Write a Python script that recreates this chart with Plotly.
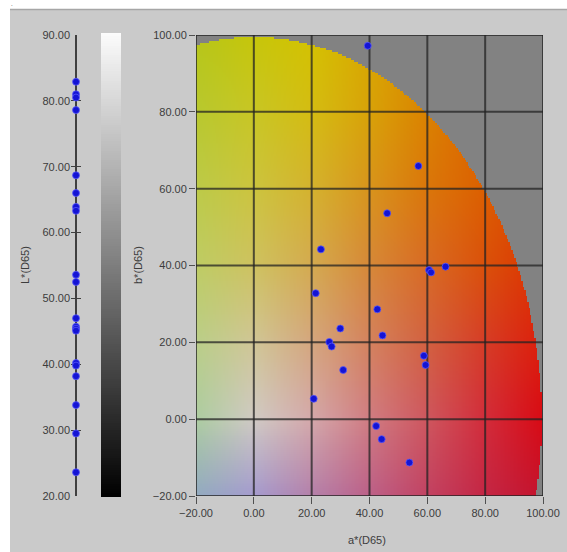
import numpy as np
import plotly.graph_objects as go

# ---------------- data ----------------
a_values = [39.4, 56.9, 46.1, 23.2, 60.6, 61.3, 66.3, 21.4, 42.7, 29.9,
            44.5, 26.1, 26.9, 58.8, 59.4, 30.9, 20.7, 42.3, 44.2, 53.8]
b_values = [97.2, 65.9, 53.6, 44.2, 38.8, 38.2, 39.7, 32.8, 28.6, 23.6,
            21.8, 20.1, 18.9, 16.5, 14.1, 12.8, 5.3, -1.8, -5.2, -11.3]
L_values = [82.9, 81.0, 80.5, 78.6, 68.7, 66.0, 63.9, 63.3, 53.6, 52.5,
            47.0, 45.7, 45.4, 45.1, 40.2, 39.8, 38.2, 33.8, 29.5, 23.6]
ab_ticks = [-20, 0, 20, 40, 60, 80, 100]
L_ticks = [20, 30, 40, 50, 60, 70, 80, 90]

# ---------------- style: background palette ----------------
pal_nodes = np.array(ab_ticks, dtype=float)
pal_rows = np.array([
    [(146, 170, 192), (164, 154, 206), (180, 128, 170), (188, 96, 136), (194, 66, 98), (196, 38, 68), (196, 18, 44)],
    [(172, 204, 160), (208, 202, 196), (212, 168, 170), (208, 124, 130), (206, 86, 94), (210, 44, 58), (216, 10, 20)],
    [(186, 206, 136), (208, 198, 150), (212, 166, 126), (212, 130, 94), (210, 96, 64), (214, 60, 38), (220, 30, 10)],
    [(190, 204, 100), (206, 194, 96), (212, 170, 80), (214, 136, 56), (216, 106, 36), (218, 80, 10), (220, 50, 0)],
    [(188, 202, 72), (204, 196, 62), (212, 178, 46), (216, 148, 28), (218, 118, 10), (220, 95, 0), (220, 70, 0)],
    [(184, 200, 46), (200, 198, 36), (212, 188, 18), (216, 162, 8), (218, 130, 0), (220, 100, 0), (220, 80, 0)],
    [(182, 198, 24), (198, 198, 10), (212, 194, 0), (216, 168, 0), (220, 140, 0), (220, 110, 0), (220, 90, 0)],
], dtype=float)
OUT_GRAY = np.array([130, 130, 130], dtype=float)
RADIUS = 99.5

step = 0.5
lo, hi = ab_ticks[0], ab_ticks[-1]
centers = np.arange(lo + step / 2, hi, step)
AA, BB = np.meshgrid(centers, centers)  # rows: b, cols: a


def interp_idx(v):
    f = (v - pal_nodes[0]) / (pal_nodes[1] - pal_nodes[0])
    i = np.clip(np.floor(f).astype(int), 0, len(pal_nodes) - 2)
    return i, f - i


ia, ta = interp_idx(AA)
ib, tb = interp_idx(BB)
c00 = pal_rows[ib, ia]
c01 = pal_rows[ib, ia + 1]
c10 = pal_rows[ib + 1, ia]
c11 = pal_rows[ib + 1, ia + 1]
ta3 = ta[..., None]
tb3 = tb[..., None]
img = (c00 * (1 - ta3) * (1 - tb3) + c01 * ta3 * (1 - tb3)
       + c10 * (1 - ta3) * tb3 + c11 * ta3 * tb3)
outside = (AA ** 2 + BB ** 2) > RADIUS ** 2
img[outside] = OUT_GRAY
img = np.round(img).astype(int)

# ---------------- geometry ----------------
W, H = 567, 552


def fx(p):
    return p / W


def fy(p):
    return 1 - p / H


main_xdom = [fx(196), fx(543)]
ydom = [fy(496), fy(35)]
L_xdom = [fx(71), fx(81)]
cb_xdom = [fx(101), fx(121)]
cb_ydom = [fy(497), fy(33)]

FONT = "Liberation Sans, Arial, sans-serif"
TXT = "#3c3c3c"

fig = go.Figure()

# background colour image
fig.add_trace(go.Image(z=img, x0=centers[0], dx=step, y0=centers[0], dy=step,
                       colormodel="rgb", hoverinfo="skip",
                       xaxis="x", yaxis="y"))

# grid lines above the image
gx, gy = [], []
for t in ab_ticks:
    gx += [t, t, None]
    gy += [lo, hi, None]
    gx += [lo, hi, None]
    gy += [t, t, None]
fig.add_trace(go.Scatter(x=gx, y=gy, mode="lines",
                         line=dict(color="rgba(35,35,35,0.75)", width=2),
                         hoverinfo="skip", showlegend=False, xaxis="x", yaxis="y"))

marker_style = dict(size=7, color="#1414d4",
                    line=dict(width=1, color="rgba(90,90,255,0.75)"))

# a*b* points
fig.add_trace(go.Scatter(x=a_values, y=b_values, mode="markers",
                         marker=marker_style, showlegend=False,
                         xaxis="x", yaxis="y"))

# L* points
fig.add_trace(go.Scatter(x=[0] * len(L_values), y=L_values, mode="markers",
                         marker=marker_style, showlegend=False,
                         xaxis="x2", yaxis="y2"))

# lightness bar
bar_levels = np.linspace(L_ticks[0], L_ticks[-1], 200)
fig.add_trace(go.Heatmap(z=[[v] for v in bar_levels], x=[0], y=bar_levels,
                         colorscale=[[0, "#000000"], [1, "#fcfcfc"]],
                         showscale=False, hoverinfo="skip",
                         xaxis="x3", yaxis="y3"))

tickfont = dict(family=FONT, size=11, color=TXT)

fig.update_layout(
    width=W, height=H,
    margin=dict(l=0, r=0, t=0, b=0),
    paper_bgcolor="#cacaca",
    plot_bgcolor="rgba(0,0,0,0)",
    showlegend=False,
    xaxis=dict(domain=main_xdom, range=[lo, hi], tickvals=ab_ticks, tickformat=".2f",
               ticks="outside", ticklen=7, tickwidth=1, tickcolor="#505050",
               showgrid=False, zeroline=False, showline=False, tickfont=tickfont,
               scaleanchor=False, automargin=False, anchor="y"),
    yaxis=dict(domain=ydom, range=[lo, hi], tickvals=ab_ticks, tickformat=".2f",
               ticks="outside", ticklen=6, tickwidth=1, tickcolor="#505050",
               showgrid=False, zeroline=False, showline=False, tickfont=tickfont,
               scaleanchor=False, automargin=False, anchor="x", autorange=False),
    xaxis2=dict(domain=L_xdom, range=[-1, 1], showticklabels=False, ticks="",
                showgrid=False, zeroline=True, zerolinecolor="#404040",
                zerolinewidth=1.5, showline=False, anchor="y2", fixedrange=True),
    yaxis2=dict(domain=ydom, range=[L_ticks[0], L_ticks[-1]], tickvals=L_ticks,
                tickformat=".2f", ticks="", showgrid=True, gridcolor="#404040",
                gridwidth=1, zeroline=False, showline=False, tickfont=tickfont,
                anchor="x2", automargin=False),
    xaxis3=dict(domain=cb_xdom, visible=False, anchor="y3"),
    yaxis3=dict(domain=cb_ydom, visible=False, anchor="x3",
                range=[L_ticks[0], L_ticks[-1]]),
)

titlefont = dict(family=FONT, size=11, color=TXT)
fig.add_annotation(text="a*(D65)", x=fx(367), y=fy(540), xref="paper", yref="paper",
                   showarrow=False, font=titlefont, xanchor="center", yanchor="middle")
fig.add_annotation(text="b*(D65)", x=fx(138), y=fy(265), xref="paper", yref="paper",
                   showarrow=False, font=titlefont, textangle=-90,
                   xanchor="center", yanchor="middle")
fig.add_annotation(text="L*(D65)", x=fx(25), y=fy(265), xref="paper", yref="paper",
                   showarrow=False, font=titlefont, textangle=-90,
                   xanchor="center", yanchor="middle")
fig.add_annotation(text=".", x=fx(12), y=1, xref="paper", yref="paper",
                   showarrow=False, font=dict(family=FONT, size=6, color="#000"),
                   xanchor="center", yanchor="top", borderpad=0)

# white page strip around the grey panel
fig.add_shape(type="rect", xref="paper", yref="paper", x0=0, x1=1, y0=fy(9), y1=1,
              fillcolor="white", line=dict(width=0), layer="below")
fig.add_shape(type="rect", xref="paper", yref="paper", x0=0, x1=fx(10), y0=0, y1=1,
              fillcolor="white", line=dict(width=0), layer="below")
fig.add_shape(type="line", xref="paper", yref="paper", x0=fx(10), x1=1, y0=fy(9.5), y1=fy(9.5),
              line=dict(color="#a6a6a6", width=1.5), layer="below")

fig.write_html(
    "out.html",
    config={"displayModeBar": False},
    post_script=("document.body.style.margin='0';"
                 "document.body.style.overflow='hidden';"
                 "document.documentElement.style.overflow='hidden';"),
)
